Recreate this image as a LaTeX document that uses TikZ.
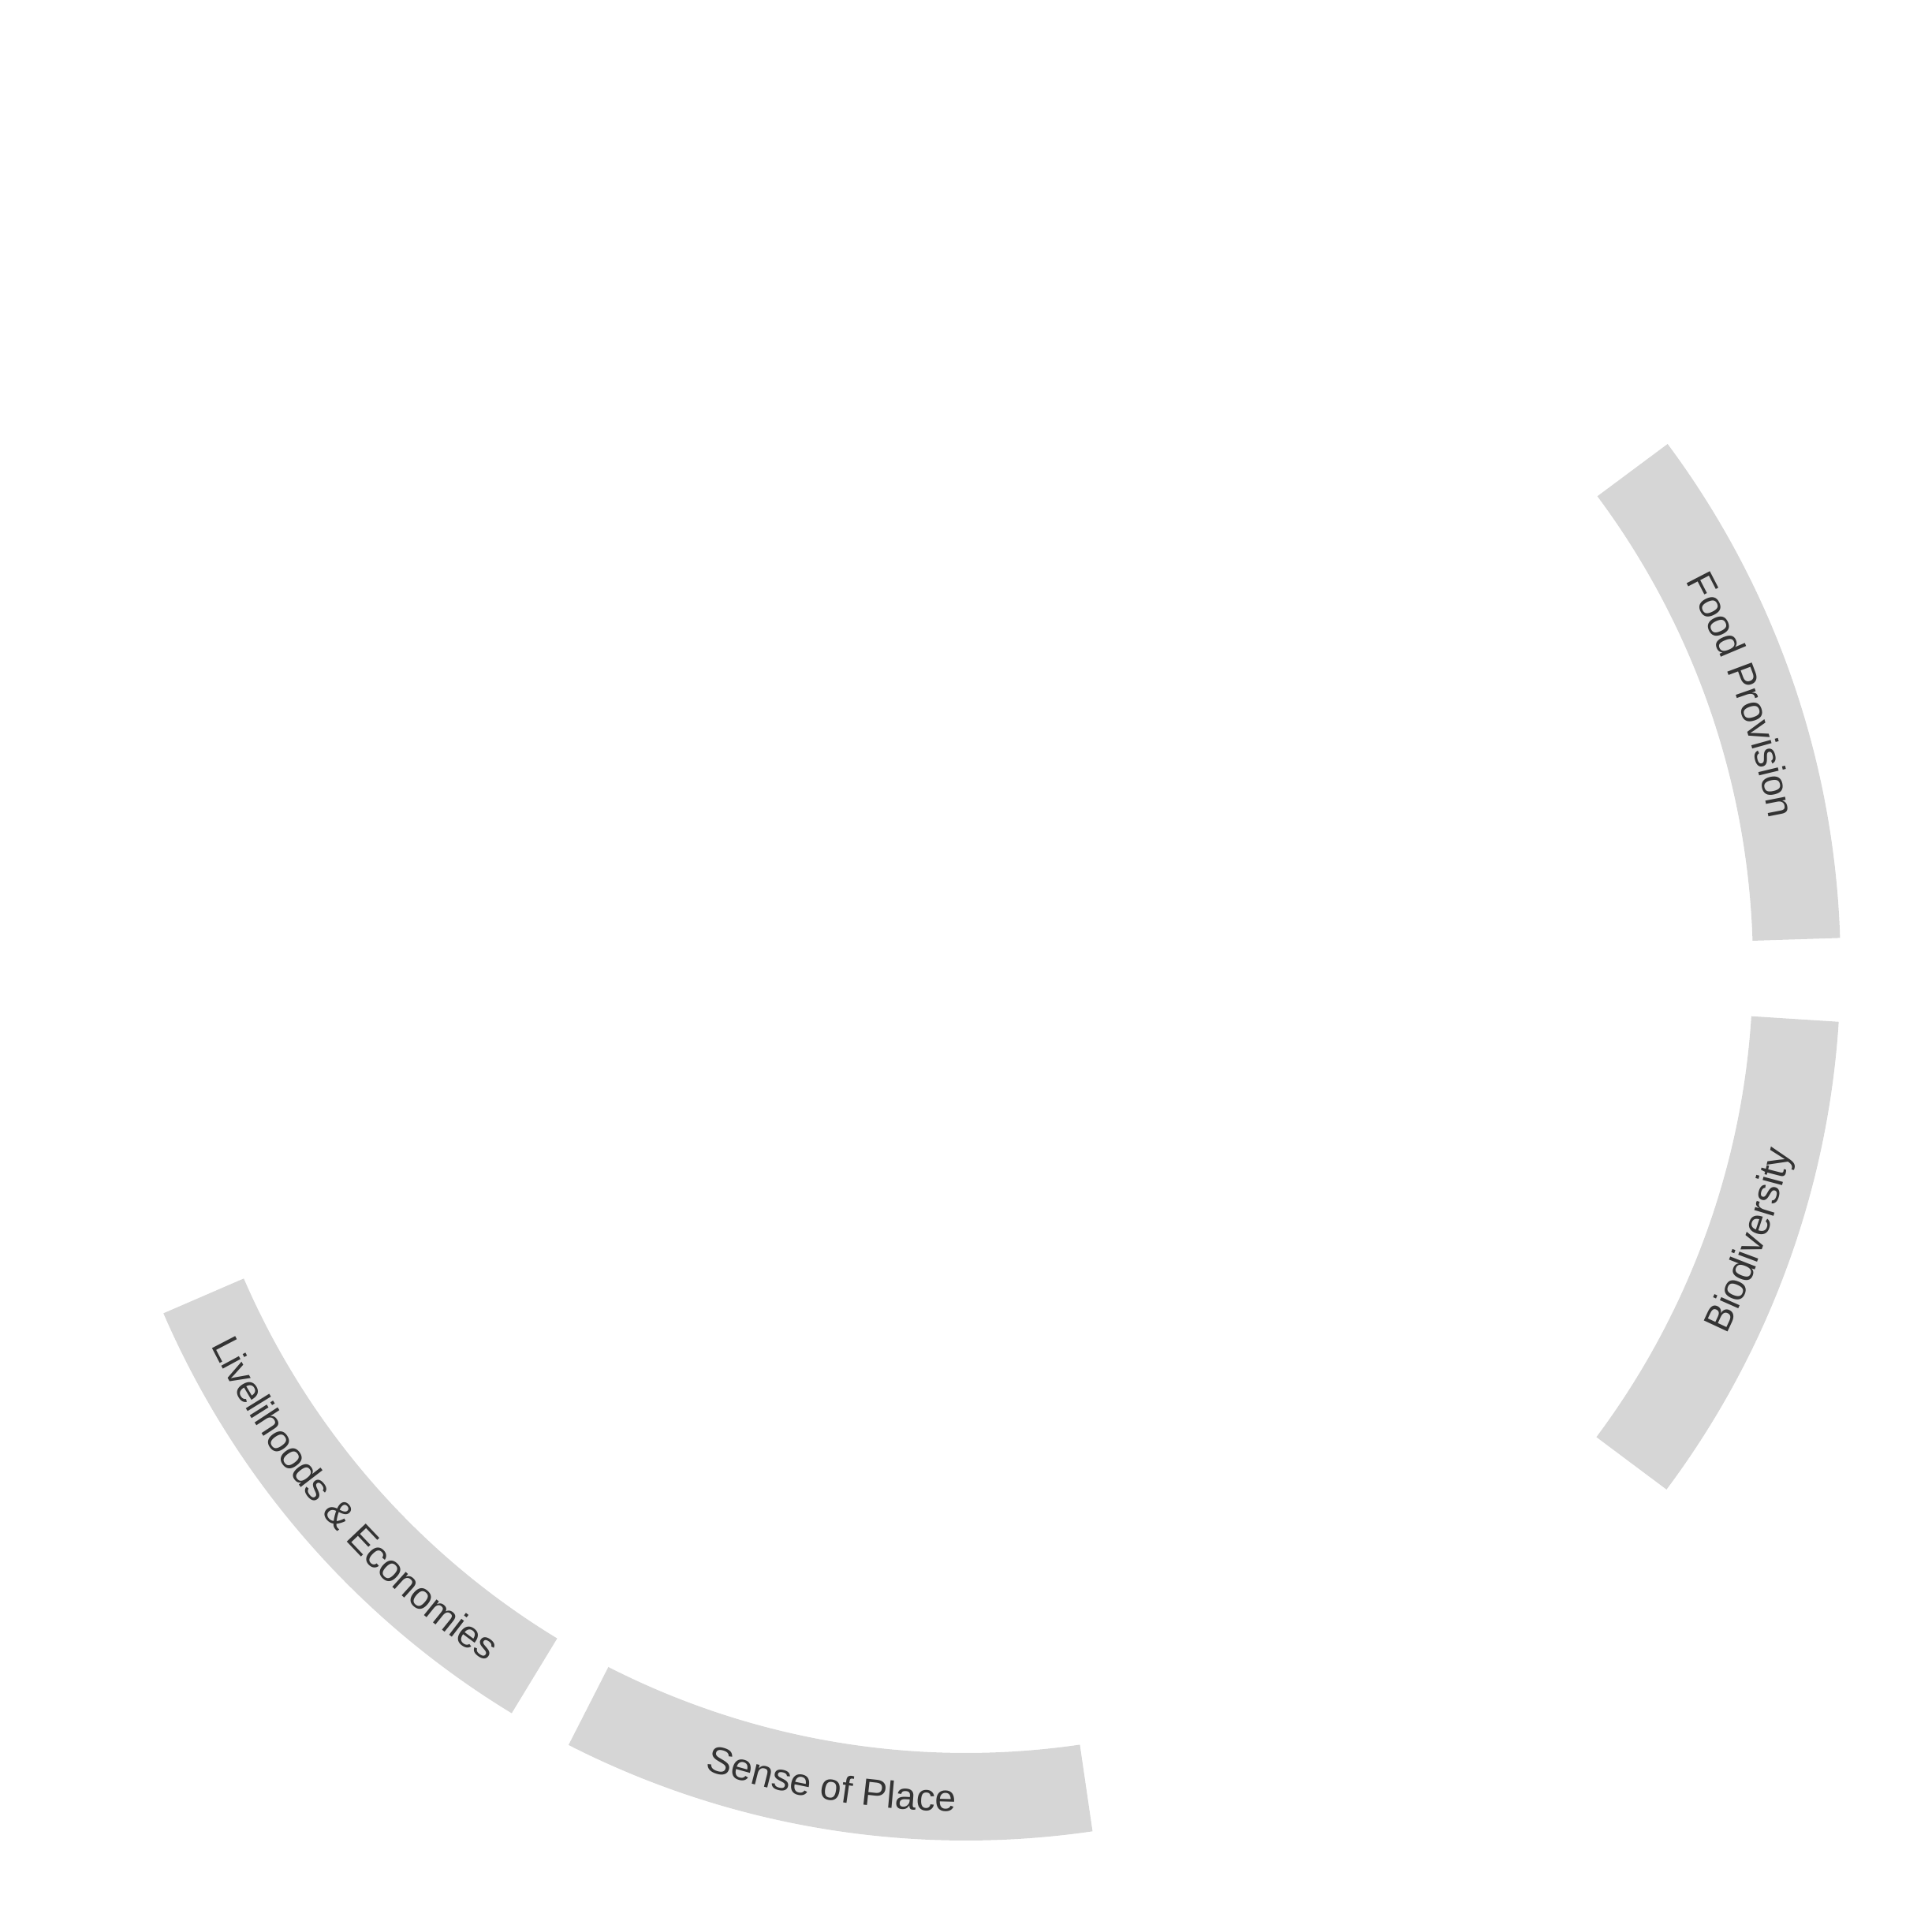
\documentclass[tikz,border=0pt]{standalone}
\usepackage{fontspec}
\newfontfamily\lblfont{Liberation Sans}
\usetikzlibrary{decorations.text}
\definecolor{segfill}{HTML}{D6D6D6}
\definecolor{txt}{HTML}{333333}
\tikzset{
  seg/.style={fill=segfill, draw=none},
  lbl/.style={decorate, decoration={text along path, text align=center, text color=txt, text={#1}}}
}
\def\Rin{9.98}
\def\Rout{11.09}
\def\Rbo{10.35}
\def\Rbi{10.72}
\begin{document}
\lblfont\fontsize{13.7}{16}\selectfont
\begin{tikzpicture}
\useasboundingbox (-12.25,-12.25) rectangle (12.25,12.25);
% Food Provision
\fill[seg] (1.84:\Rin) arc[start angle=1.84, end angle=36.65, radius=\Rin] -- (36.65:\Rout) arc[start angle=36.65, end angle=1.84, radius=\Rout] -- cycle;
\path[lbl={Food Provision}] (36.65:\Rbo) arc[start angle=36.65, end angle=1.84, radius=\Rbo];
% Biodiversity
\fill[seg] (-36.77:\Rin) arc[start angle=-36.77, end angle=-3.66, radius=\Rin] -- (-3.66:\Rout) arc[start angle=-3.66, end angle=-36.77, radius=\Rout] -- cycle;
\path[lbl={Biodiversity}] (-35.8:\Rbi) arc[start angle=-35.8, end angle=-2.7, radius=\Rbi];
% Sense of Place
\fill[seg] (-117.03:\Rin) arc[start angle=-117.03, end angle=-81.68, radius=\Rin] -- (-81.68:\Rout) arc[start angle=-81.68, end angle=-117.03, radius=\Rout] -- cycle;
\path[lbl={Sense of Place}] (-117.03:\Rbi) arc[start angle=-117.03, end angle=-81.68, radius=\Rbi];
% Livelihoods & Economies
\fill[seg] (-156.6:\Rin) arc[start angle=-156.6, end angle=-121.3, radius=\Rin] -- (-121.3:\Rout) arc[start angle=-121.3, end angle=-156.6, radius=\Rout] -- cycle;
\path[lbl={Livelihoods {\&} Economies}] (-156.6:\Rbi) arc[start angle=-156.6, end angle=-121.3, radius=\Rbi];
\end{tikzpicture}
\end{document}
